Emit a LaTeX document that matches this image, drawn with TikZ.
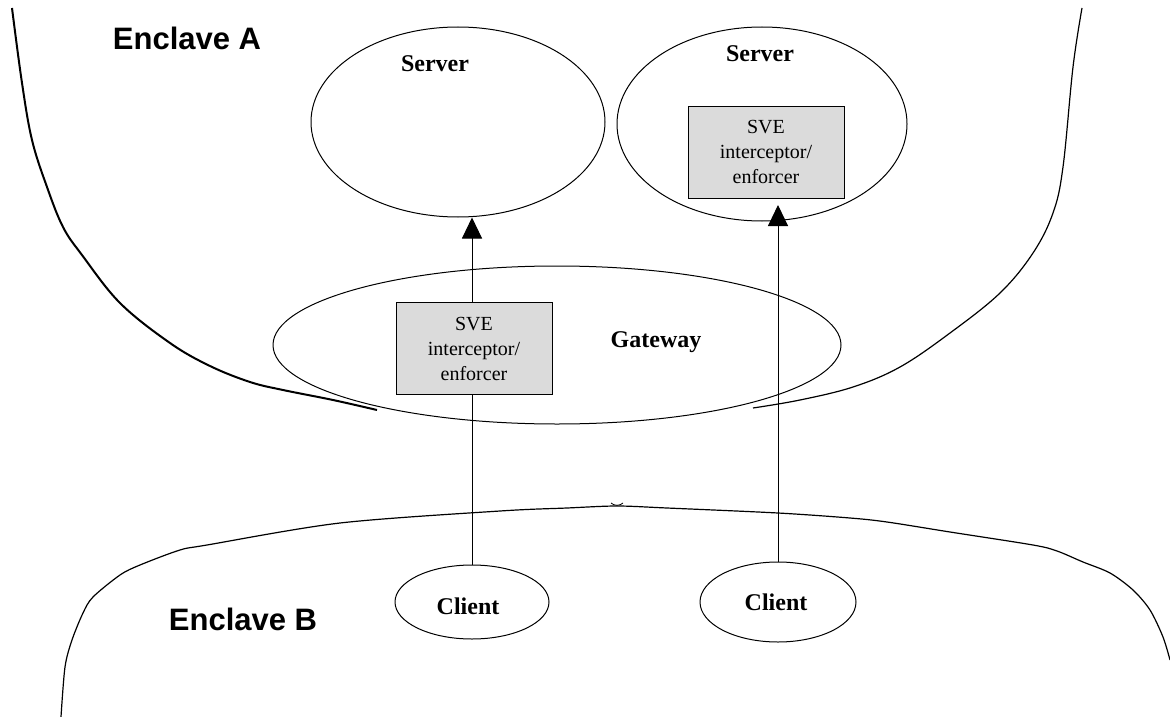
\documentclass[tikz,border=0pt]{standalone}
\usepackage{fontspec}
\setmainfont{Liberation Serif}
\setsansfont{Liberation Sans}
\usetikzlibrary{shapes.geometric,arrows.meta,backgrounds}
\begin{document}
\begin{tikzpicture}[x=1pt,y=-1pt,
  oval/.style={ellipse,draw,line width=1pt,inner sep=0pt},
  svebox/.style={draw,fill=gray!28,line width=0.9pt,minimum width=156pt,minimum height=92pt,inner sep=0pt,align=center,font=\fontsize{20}{25}\selectfont},
  lbl/.style={font=\fontsize{24}{28}\selectfont\bfseries,inner sep=0pt},
  enc/.style={font=\sffamily\bfseries\fontsize{31}{36}\selectfont,inner sep=0pt},
  conn/.style={line width=1pt,-{Triangle[width=20pt,length=21pt]}},
  boundary/.style={line width=1.2pt},
  thickboundary/.style={line width=2pt}]
\useasboundingbox (0,0) rectangle (1170,717);

% nodes
\node[oval,minimum width=294pt,minimum height=190pt] (server1) at (458,122) {};
\node[lbl] (server1label) at (435,64) {Server};
\node[oval,minimum width=290pt,minimum height=194pt] (server2) at (762,124) {};
\node[lbl] (server2label) at (760,54) {Server};
\node[oval,minimum width=568pt,minimum height=158pt] (gateway) at (557,345) {};
\node[lbl] (gatewaylabel) at (656,342) {Gateway};
\node[oval,minimum width=154pt,minimum height=74pt] (client1) at (472,602) {};
\node[lbl] (client1label) at (468,606) {Client};
\node[oval,minimum width=156pt,minimum height=80pt] (client2) at (778,602) {};
\node[lbl] (client2label) at (776,602) {Client};
\node[enc] (enclaveA) at (187,38) {Enclave A};
\node[enc] (enclaveB) at (243,619) {Enclave B};

% connectors (behind the boxes)
\begin{scope}[on background layer]
\draw[conn] (client1.north) -- (client1.north |- server1.south);
\draw[conn,shorten >=6pt] (client2.north) -- (client2.north |- 0,199);
% enclave boundaries
\draw[thickboundary] plot[smooth,tension=0.6] coordinates {(12,8) (22,83) (32,140) (47,187) (63,227) (82,255) (120,303) (170,343) (210,366) (250,382) (283,390) (333,400) (377,410)};
\draw[boundary] plot[smooth,tension=0.6] coordinates {(1082,8) (1073,67) (1063,167) (1053,213) (1033,253) (1000,293) (950,333) (900,367) (853,387) (800,400) (753,408)};
\draw[boundary] plot[smooth,tension=0.5] coordinates {(61,717) (65,667) (72,640) (83,613) (93,597) (120,575) (140,565) (180,550) (207,545) (340,523) (500,511) (567,508) (617,506) (667,508) (778,513) (850,518) (887,522) (950,532) (1033,545) (1057,551) (1083,562) (1110,573) (1133,590) (1150,610) (1163,637) (1170,660)};
\draw[line width=0.8pt] (611,503) .. controls (614,506) and (620,506) .. (623,503);
\end{scope}

\node[svebox] (sve1) at (474,348.5) {SVE\\interceptor/\\enforcer};
\node[svebox] (sve2) at (766,152) {SVE\\interceptor/\\enforcer};
\end{tikzpicture}
\end{document}
